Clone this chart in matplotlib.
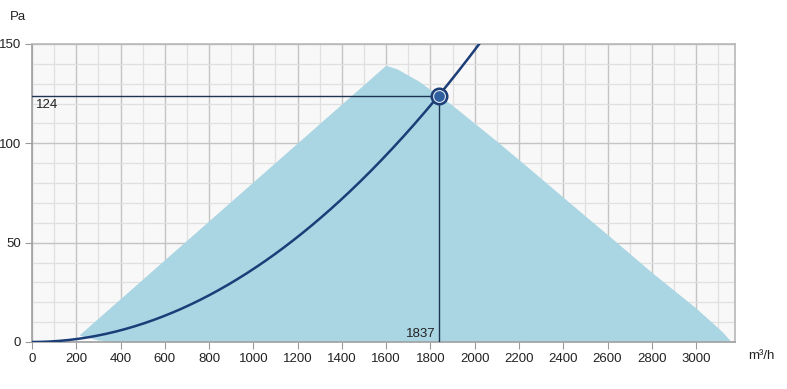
import matplotlib.pyplot as plt
import numpy as np
from matplotlib.ticker import MultipleLocator

plt.rcParams['font.family'] = ['Liberation Sans', 'DejaVu Sans']

# working range of the fan (polygon outline)
range_q = [355, 300, 255, 215, 1600, 1650, 1750, 1837, 1900, 2100, 2250, 2440, 2600, 2800, 3000, 3070, 3120, 3160]
range_p = [0.0, 0.8, 2.0, 3.3, 139, 137.3, 131, 124, 119, 101, 87, 69, 54, 35, 17, 10, 5, 0]

# system curve p = k * q^2 through the duty point
duty_q = 1837
duty_p = 124
x_ticks = list(range(0, 3001, 200))
y_ticks = [0, 50, 100, 150]

fig = plt.figure(figsize=(7.87, 3.89), dpi=100)
ax = fig.add_axes([32 / 787, 1 - 342 / 389, 703 / 787, 298 / 389])
ax.set_facecolor('#f8f8f8')
ax.set_xlim(0, 3176)
ax.set_ylim(0, 150)

ax.xaxis.set_major_locator(MultipleLocator(200))
ax.xaxis.set_minor_locator(MultipleLocator(100))
ax.yaxis.set_major_locator(MultipleLocator(50))
ax.yaxis.set_minor_locator(MultipleLocator(10))
ax.grid(which='minor', color='#e0e0e0', lw=0.9)
ax.grid(which='major', color='#c4c4c4', lw=1.0)
ax.set_axisbelow(True)

ax.fill(range_q, range_p, color='#aad5e3', lw=0, zorder=2)

k = duty_p / duty_q ** 2
q = np.linspace(0, 2100, 300)
ax.plot(q, k * q ** 2, color='#1b3d78', lw=1.8, zorder=4, clip_on=True)

ax.plot([0, duty_q], [duty_p, duty_p], color='#1e3552', lw=1.0, zorder=3)
ax.plot([duty_q, duty_q], [0, duty_p], color='#1e3552', lw=1.0, zorder=3)
ax.plot(duty_q, duty_p, 'o', ms=12, mfc='#1d3f77', mec='#1d3f77', zorder=5)
ax.plot(duty_q, duty_p, 'o', ms=8.5, mfc='#2f5f9e', mec='#dfe8f3', mew=0.8, zorder=6)

ax.text(20, duty_p - 1.5, str(duty_p), fontsize=9.5, color='#222222', va='top', ha='left')
ax.text(duty_q - 12, 0.8, str(duty_q), fontsize=9.5, color='#222222', va='bottom', ha='right')

ax.set_xticks(x_ticks)
ax.set_yticks(y_ticks)
ax.tick_params(which='major', length=5, color='#9a9a9a', labelsize=9.5, labelcolor='#222222', pad=3)
ax.tick_params(which='minor', length=0)
for s in ['left', 'bottom']:
    ax.spines[s].set_color('#a0a0a0')
    ax.spines[s].set_linewidth(1.2)
for s in ['top', 'right']:
    ax.spines[s].set_color('#b8b8b8')
    ax.spines[s].set_linewidth(1.2)

fig.text(10 / 787, 1 - 17 / 389, 'Pa', fontsize=9.5, color='#222222', va='center', ha='left')
fig.text(748 / 787, 1 - 356 / 389, 'm³/h', fontsize=9.5, color='#222222', va='center', ha='left')

fig.savefig('out.png', dpi=100)
